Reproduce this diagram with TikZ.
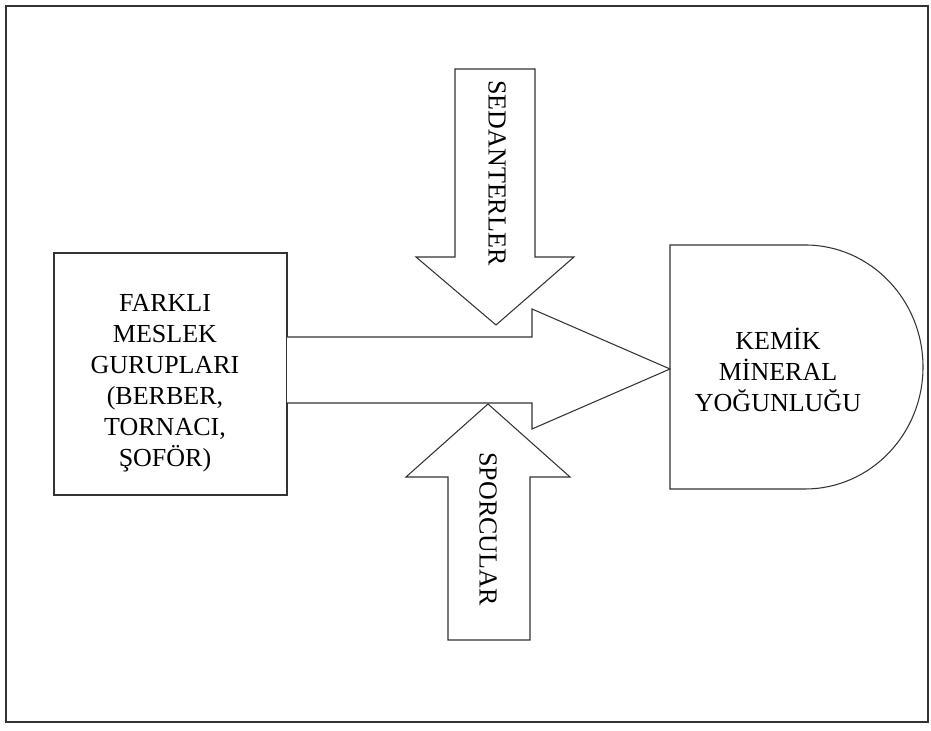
\documentclass[tikz,border=0pt]{standalone}
\usepackage{fontspec}
\setmainfont{Liberation Serif}
\usetikzlibrary{positioning}

\begin{document}
\begin{tikzpicture}[line width=0.6pt, draw=black!85,
  blocktext/.style={align=center, font=\fontsize{14.8}{17.6}\selectfont, inner sep=0pt},
  blockline/.style={draw=black!80, fill=white, line join=miter}]
\useasboundingbox (0,0) rectangle (18.62,14.62);
\draw[black!80] (0.12,0.18) rectangle (18.56,14.5);
% left box
\draw[blockline] (1.08,4.72) rectangle (5.74,9.56);
\node[blocktext] (meslek) at (3.30,6.96) {FARKLI\\MESLEK\\GURUPLARI\\(BERBER,\\TORNACI,\\ŞOFÖR)};
% right D shape
\draw[blockline] (13.40,4.84) -- (16.10,4.84) arc[start angle=-90, end angle=90, x radius=2.36, y radius=2.44] -- (13.40,9.72) -- cycle;
\node[blocktext] (kemik) at (15.56,7.22) {KEMİK\\MİNERAL\\YOĞUNLUĞU};
% big arrow to the right
\draw[blockline] (5.74,7.88) -- (10.64,7.88) -- (10.64,8.44) -- (13.40,7.24) -- (10.64,6.04) -- (10.64,6.56) -- (5.74,6.56);
% arrow from above
\draw[blockline] (9.10,13.24) -- (10.70,13.24) -- (10.70,9.48) -- (11.48,9.48) -- (9.92,8.12) -- (8.32,9.48) -- (9.10,9.48) -- cycle;
\node[blocktext, rotate=-90] (sedanter) at (9.94,11.16) {SEDANTERLER};
% arrow from below
\draw[blockline] (8.96,1.82) -- (10.60,1.82) -- (10.60,5.08) -- (11.40,5.08) -- (9.76,6.54) -- (8.12,5.08) -- (8.96,5.08) -- cycle;
\node[blocktext, rotate=-90] (sporcu) at (9.76,4.04) {SPORCULAR};
\end{tikzpicture}
\end{document}
